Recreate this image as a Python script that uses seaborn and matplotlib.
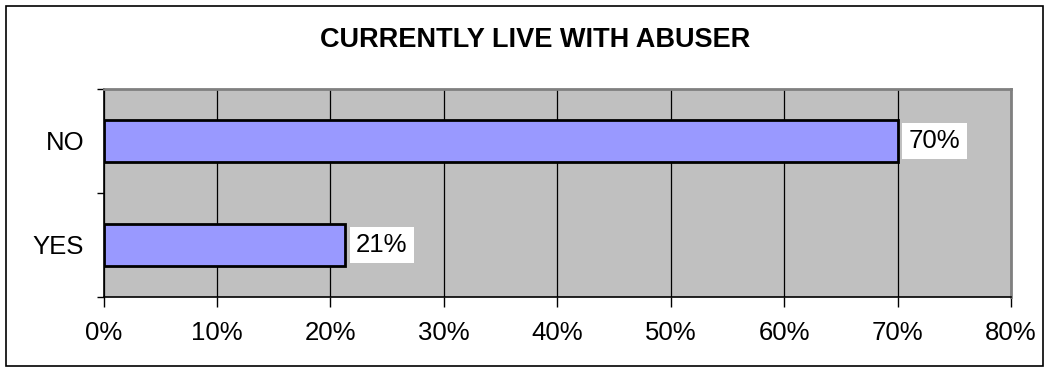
import matplotlib
matplotlib.use("Agg")
import matplotlib.pyplot as plt
import seaborn as sns
import pandas as pd
from matplotlib.patches import Rectangle
from matplotlib.ticker import FixedLocator, PercentFormatter

title = "CURRENTLY LIVE WITH ABUSER"
categories = ["NO", "YES"]
values = [70.0, 21.3]
x_ticks = [0, 10, 20, 30, 40, 50, 60, 70, 80]

sns.set_style("white")
plt.rcParams['font.family'] = ['Liberation Sans', 'DejaVu Sans']
plt.rcParams['text.color'] = 'black'
plt.rcParams['xtick.color'] = 'black'
plt.rcParams['ytick.color'] = 'black'

df = pd.DataFrame({"answer": categories, "pct": values})

fig = plt.figure(figsize=(10.5, 3.72), dpi=100)
ax = fig.add_axes([103.5/1050, 1-297/372, (1011-103.5)/1050, (297-89)/372])
ax.set_facecolor("#C0C0C0")

sns.barplot(data=df, x="pct", y="answer", order=categories, orient="h",
            color="#9999FF", saturation=1, width=0.4, edgecolor="black",
            linewidth=2, ax=ax, zorder=3)

ax.set_xlim(0, 80)
ax.set_ylim(1.5, -0.5)
ax.set_xticks(x_ticks)
ax.xaxis.set_major_formatter(PercentFormatter(decimals=0))
ax.grid(axis="x", color="black", linewidth=0.9, zorder=0)
ax.set_axisbelow(True)
ax.set_xlabel("")
ax.set_ylabel("")

ax.tick_params(axis="x", which="major", direction="out", length=7, width=1,
               color="black", labelsize=18.5, labelcolor="black", pad=10.5, bottom=True)
ax.tick_params(axis="y", which="major", length=0, labelsize=18.5,
               labelcolor="black", pad=14)
ax.yaxis.set_minor_locator(FixedLocator([-0.5, 0.5, 1.5]))
ax.tick_params(axis="y", which="minor", direction="out", length=5, width=1,
               color="black", left=True)

for side in ["left", "bottom"]:
    ax.spines[side].set_color("black")
    ax.spines[side].set_linewidth(1.2)
for side in ["top", "right"]:
    ax.spines[side].set_color("#808080")
    ax.spines[side].set_linewidth(2)

for i, v in enumerate(values):
    ax.annotate(f"{v:.0f}%", xy=(v, i), xytext=(8, 0), textcoords="offset points",
                ha="left", va="center", fontsize=18.5, color="black",
                bbox=dict(boxstyle="square,pad=0.25", facecolor="white", edgecolor="none"),
                zorder=5)

fig.text(535/1050, 1-40/372, title, ha="center", va="center", fontsize=19.5,
         fontweight="bold", color="black")

fig.patches.append(Rectangle((6/1050, 6/372), (1043-6)/1050, (366-6)/372,
                             transform=fig.transFigure, fill=False,
                             edgecolor="black", linewidth=1.2))

fig.savefig("out.png", dpi=100)
